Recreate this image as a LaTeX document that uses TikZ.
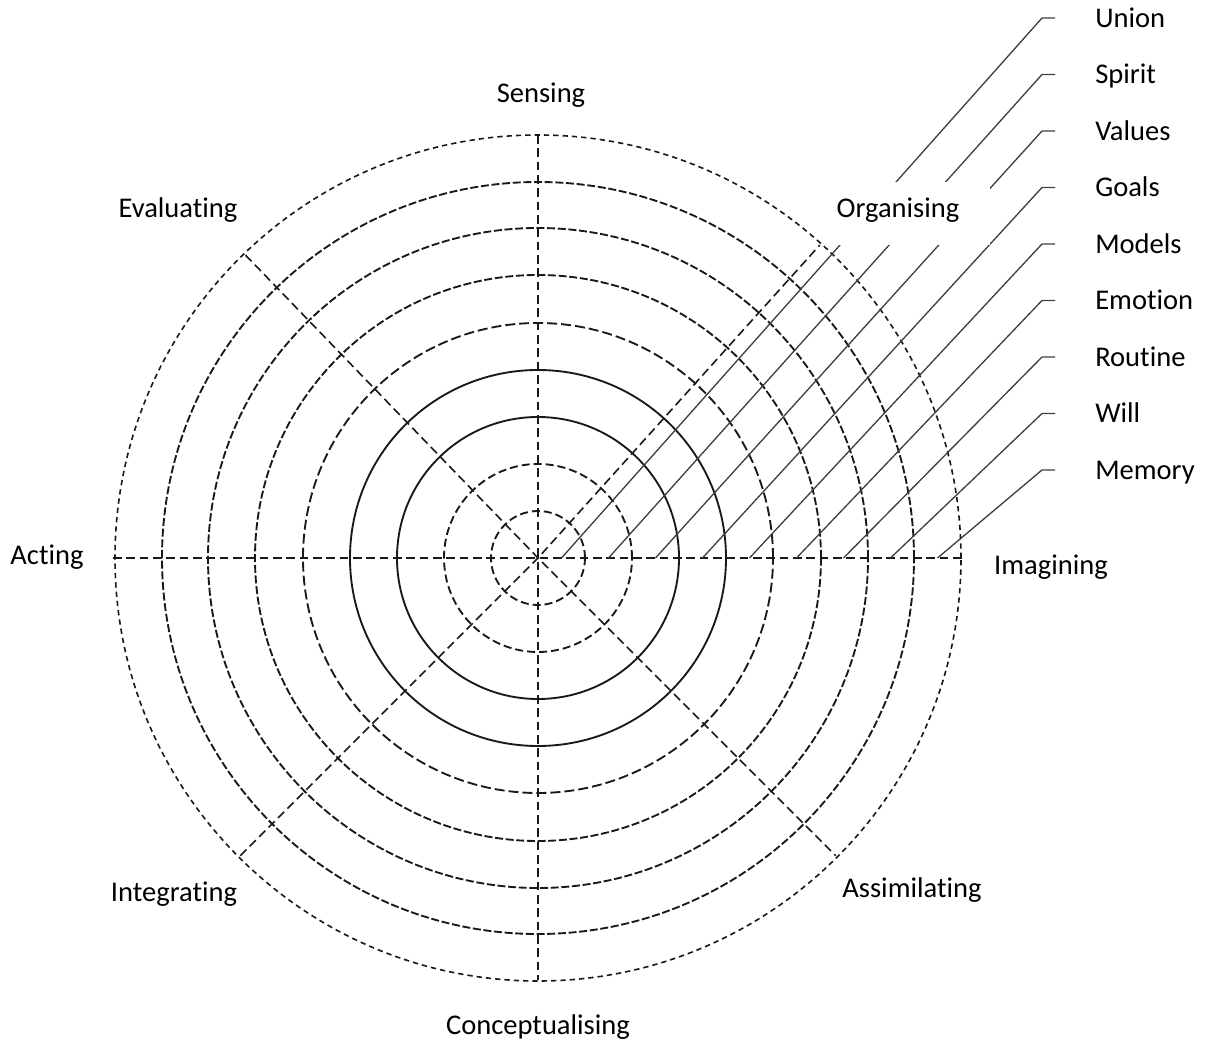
\documentclass[tikz,border=0pt]{standalone}
\usepackage{fontspec}
\setmainfont{Carlito}[Ligatures=NoCommon]
\usepackage{tikz}
\usetikzlibrary{calc}
\definecolor{myink}{gray}{0.1}
\definecolor{mygray}{gray}{0.25}

\begin{document}
\begin{tikzpicture}[x=0.75pt,y=0.75pt,
    ring/.style={line width=1.4pt,color=myink},
    axis/.style={line width=1.2pt,color=myink,dash pattern=on 6.5pt off 3.5pt},
    leader/.style={line width=1pt,color=mygray},
    lbl/.style={inner sep=0pt,text height=13.7pt,text depth=0pt,font=\fontsize{21.4}{25}\selectfont}]
    \useasboundingbox (-538,-483) rectangle (667,558);

    % rings
    \draw[ring,dash pattern=on 6pt off 3pt] (0,0) circle (47);
    \draw[ring,dash pattern=on 6pt off 3pt] (0,0) circle (94);
    \draw[ring] (0,0) circle (141);
    \draw[ring] (0,0) circle (188);
    \draw[ring,dash pattern=on 7.5pt off 3pt] (0,0) circle (235);
    \foreach \r in {283,330,376}
        \draw[ring,dash pattern=on 6pt off 2pt] (0,0) circle (\r);
    \draw[ring,line width=1.2pt,dash pattern=on 4pt off 3pt] (0,0) circle (423);

    % axes
    \coordinate (O) at (0,0);
    \draw[axis] (-425,0) -- (424,0);
    \draw[axis] (0,423) -- (0,-422);
    \draw[axis] (134:421) -- (O) -- (-45:421);
    \draw[axis] (225:421) -- (O) -- (48:421);

    % leaders
    \foreach \name [count=\k] in {Union,Spirit,Values,Goals,Models,Emotion,Routine,Will,Memory} {
        \coordinate (base\k) at ({47*\k-23.5},0);
        \node[lbl,anchor=west] (tag\k) at (557,{540-56.5*(\k-1)}) {\name};
        \draw[leader] (base\k) -- ($(tag\k.west)+(-53,0)$) -- ($(tag\k.west)+(-40,0)$);
    }

    % text
    \fill[white] (284,313) rectangle (452,376);
    \node[lbl] (sensing) at (3,465) {Sensing};
    \node[lbl] (evaluating) at (-360,350) {Evaluating};
    \node[lbl] (organising) at (360,350) {Organising};
    \node[lbl] (acting) at (-491,3) {Acting};
    \node[lbl] (imagining) at (513,-7) {Imagining};
    \node[lbl] (integrating) at (-364,-334) {Integrating};
    \node[lbl] (assimilating) at (374,-330) {Assimilating};
    \node[lbl] (conceptualising) at (0,-467) {Conceptualising};
\end{tikzpicture}
\end{document}
